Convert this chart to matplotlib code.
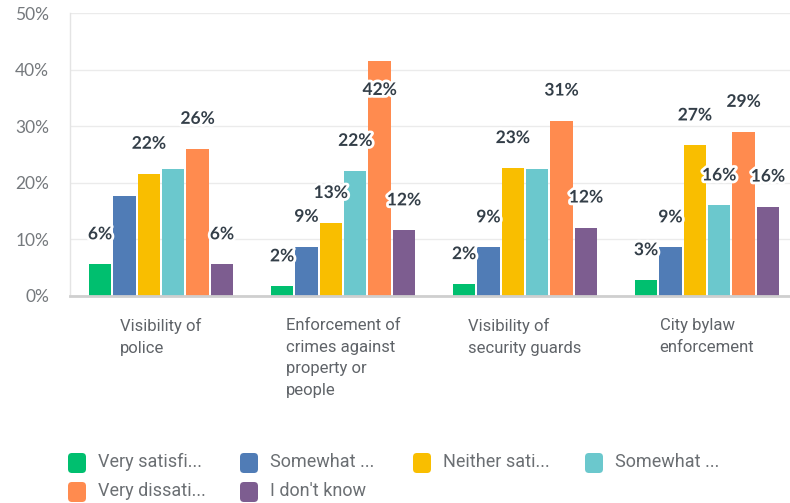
import matplotlib
matplotlib.use("Agg")
import matplotlib.pyplot as plt
import matplotlib.patheffects as pe
from matplotlib.patches import FancyBboxPatch
import numpy as np

# Survey results: share of respondents per answer, for each service
categories = [
    "Visibility of\npolice",
    "Enforcement of\ncrimes against\nproperty or\npeople",
    "Visibility of\nsecurity guards",
    "City bylaw\nenforcement",
]
series_names = [
    "Very satisfi...",
    "Somewhat ...",
    "Neither sati...",
    "Somewhat ...",
    "Very dissati...",
    "I don't know",
]
very_satisfied = [5.6, 1.7, 2.1, 2.8]
somewhat_satisfied = [17.6, 8.7, 8.6, 8.6]
neither = [21.6, 12.9, 22.6, 26.6]
somewhat_dissatisfied = [22.4, 22.1, 22.4, 16.0]
very_dissatisfied = [26.0, 41.6, 31.0, 29.0]
dont_know = [5.6, 11.6, 12.1, 15.8]
# (category index, series index) pairs whose value label is not shown
hidden_labels = {(0, 1), (0, 3), (2, 3)}

series_values = [very_satisfied, somewhat_satisfied, neither,
                 somewhat_dissatisfied, very_dissatisfied, dont_know]
colors = ["#00bf6f", "#507cb6", "#f9be00", "#6bc8cd", "#ff8b4f", "#7d5d90"]

W, H, DPI = 790, 503, 100
fig = plt.figure(figsize=(W / DPI, H / DPI), dpi=DPI)
fig.patch.set_facecolor("white")

# plot area in pixels: x 70..798, y 13..296 (from top)
left, right, top, bottom = 70, 798, 13, 296
ax = fig.add_axes([left / W, (H - bottom) / H, (right - left) / W, (bottom - top) / H])
ax.set_xlim(-0.5, len(categories) - 0.5)
ax.set_ylim(0, 50)

x = np.arange(len(categories))
n = len(series_values)
pitch = 0.134
width = 0.124
label_font = dict(family=["Lato", "DejaVu Sans"], fontsize=12.5, fontweight="bold",
                  color="#333e48")
halo = [pe.withStroke(linewidth=4, foreground="white")]

for s, (vals, col) in enumerate(zip(series_values, colors)):
    xs = x + (s - (n - 1) / 2) * pitch
    ax.bar(xs, vals, width=width, color=col, zorder=3, linewidth=0)
    for c, (xi, v) in enumerate(zip(xs, vals)):
        if (c, s) in hidden_labels:
            continue
        ly = v + 5.3
        if ly > 45:
            ly = v - 5.2
        ax.text(xi, ly, f"{round(v)}%", ha="center", va="center",
                path_effects=halo, zorder=5, **label_font)

ax.set_yticks(np.arange(0, 51, 10))
ax.set_yticklabels([f"{t}%" for t in range(0, 51, 10)])
ax.tick_params(axis="y", length=0, pad=15, labelsize=12.5, labelcolor="#75797d")
for lab in ax.get_yticklabels():
    lab.set_family(["Lato", "DejaVu Sans"])
ax.set_xticks([])
ax.grid(axis="y", color="#ebebeb", linewidth=1, zorder=0)
for side in ("top", "right"):
    ax.spines[side].set_visible(False)
ax.spines["left"].set_color("#e4e4e4")
ax.spines["left"].set_linewidth(1)
ax.spines["bottom"].set_color("#cfcfcf")
ax.spines["bottom"].set_linewidth(2)
ax.spines["bottom"].set_zorder(4)

# category labels below each group
for xi, cat in zip(x, categories):
    ax.annotate(cat, xy=(xi, 0), xycoords="data", xytext=(0, -16),
                textcoords="offset points", ha="center", va="top",
                multialignment="left", fontsize=12, color="#5f6368",
                family=["Roboto", "DejaVu Sans"], linespacing=1.55,
                annotation_clip=False)

# legend: rounded swatches in two rows of four columns
col_x = [68, 240, 413, 585]
row_y = [463, 492]
sw_w, sw_h = 18, 20
for i, (name, col) in enumerate(zip(series_names, colors)):
    r, c = divmod(i, 4)
    sx, sy = col_x[c], row_y[r]
    box = FancyBboxPatch(((sx) / W, (H - sy - sw_h / 2) / H), sw_w / W, sw_h / H,
                         boxstyle="round,pad=0,rounding_size=0.005",
                         transform=fig.transFigure, facecolor=col,
                         edgecolor="none", mutation_aspect=W / H)
    fig.add_artist(box)
    fig.text((sx + 30) / W, (H - sy + 1) / H, name, ha="left", va="center",
             fontsize=13, color="#6b6f73", family=["Roboto", "DejaVu Sans"])

fig.savefig("out.png", dpi=DPI, facecolor="white")
